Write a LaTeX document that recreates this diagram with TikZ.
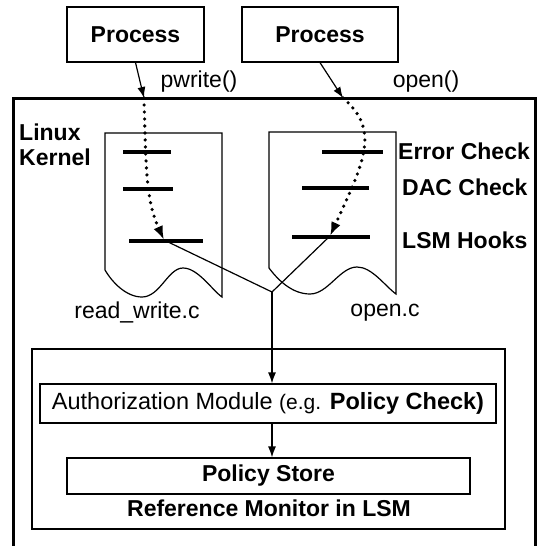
\documentclass[tikz,border=0pt]{standalone}
\usepackage{fontspec}
\setmainfont{Liberation Sans}
\usepackage{tikz}
\usetikzlibrary{arrows.meta}
\usetikzlibrary{positioning}
\tikzset{box/.style = {draw, line width = 1.2, inner sep = 0},
  txt/.style = {inner sep = 0, font = \fontsize{23}{25}\selectfont},
  btxt/.style = {inner sep = 0, font = \fontsize{23}{25}\selectfont\bfseries},
  hook/.style = {line width = 3.5},
  call/.style = {line width = 3.6, line cap = round, dash pattern = on 0 off 7,
    -{Latex[length = 14, width = 10]}},
  conn/.style = {line width = 1.2},
  arr/.style = {line width = 1.2, -{Latex[length = 11, width = 8]}}}

\begin{document}
\begin{tikzpicture}[x=1pt, y=-1pt]
    \useasboundingbox (0, 0) rectangle (538, 546);
    % processes
    \node [box, btxt, minimum width = 137, minimum height = 55] (proc1) at (135.5, 34.5) {Process};
    \node [box, btxt, minimum width = 156, minimum height = 55] (proc2) at (320, 34.5) {Process};
    \node [txt] (pwrite) at (199, 82) {pwrite()};
    \node [txt] (open) at (426, 82) {open()};
    % kernel
    \draw [line width = 3] (13, 550) -- (13, 98) -- (535, 98) -- (535, 550);
    \node [btxt, align = left] (kernel) at (55, 145) {Linux\\Kernel};
    \coordinate (in1) at (144, 98);
    \coordinate (in2) at (343, 98);
    \draw [arr] (proc1.south) -- (in1);
    \draw [arr] (proc2.south) -- (in2);
    % source files
    \draw [line width = 1.2] (105, 270) -- (105, 133) -- (222, 133) -- (222, 297)
      .. controls (212, 290) and (198, 268) .. (183, 268)
      .. controls (168, 268) and (160, 297) .. (142, 297)
      .. controls (126, 297) and (112, 282) .. cycle;
    \draw [line width = 1.2] (269, 268) -- (269, 132) -- (396, 132) -- (396, 294)
      .. controls (385, 286) and (372, 267) .. (357, 267)
      .. controls (340, 267) and (328, 294) .. (310, 294)
      .. controls (292, 294) and (278, 280) .. cycle;
    \node [txt] (rw) at (137, 312) {read\_write.c};
    \node [txt] (openc) at (385, 313) {open.c};
    \draw [hook] (123, 152) -- (171, 152);
    \draw [hook] (123, 189) -- (173, 189);
    \draw [hook] (129, 241) -- (203, 241);
    \draw [hook] (322, 152) -- (383, 152);
    \draw [hook] (302, 188) -- (369, 188);
    \draw [hook] (292, 237) -- (370, 237);
    \node [btxt, anchor = west] (err) at (398, 151) {Error Check};
    \node [btxt, anchor = west] (dac) at (402, 187) {DAC Check};
    \node [btxt, anchor = west] (lsmh) at (402, 240) {LSM Hooks};
    \coordinate (hook1) at (164, 240);
    \coordinate (hook2) at (330, 236);
    \draw [call] (in1) .. controls (146, 170) and (146, 200) .. (hook1);
    \draw [call] (in2) .. controls (380, 130) and (365, 160) .. (hook2);
    \coordinate (join) at (272, 292);
    \draw [conn] (hook1) -- (join) -- (hook2);
    % reference monitor
    \node [box, minimum width = 473, minimum height = 180] (lsm) at (268.5, 439) {};
    \node [box, minimum width = 456, minimum height = 39] (auth) at (268, 403.5)
      {\fontsize{23.5}{25}\selectfont Authorization Module {\fontsize{21}{25}\selectfont (e.g.} \textbf{Policy Check)}};
    \node [box, btxt, minimum width = 403, minimum height = 36] (store) at (268.5, 476) {Policy Store};
    \node [btxt] (rmon) at (269, 508) {Reference Monitor in LSM};
    \draw [arr] (join) -- (join |- auth.north);
    \draw [arr] (auth.south -| join) -- (store.north -| join);
  \end{tikzpicture}
\end{document}
